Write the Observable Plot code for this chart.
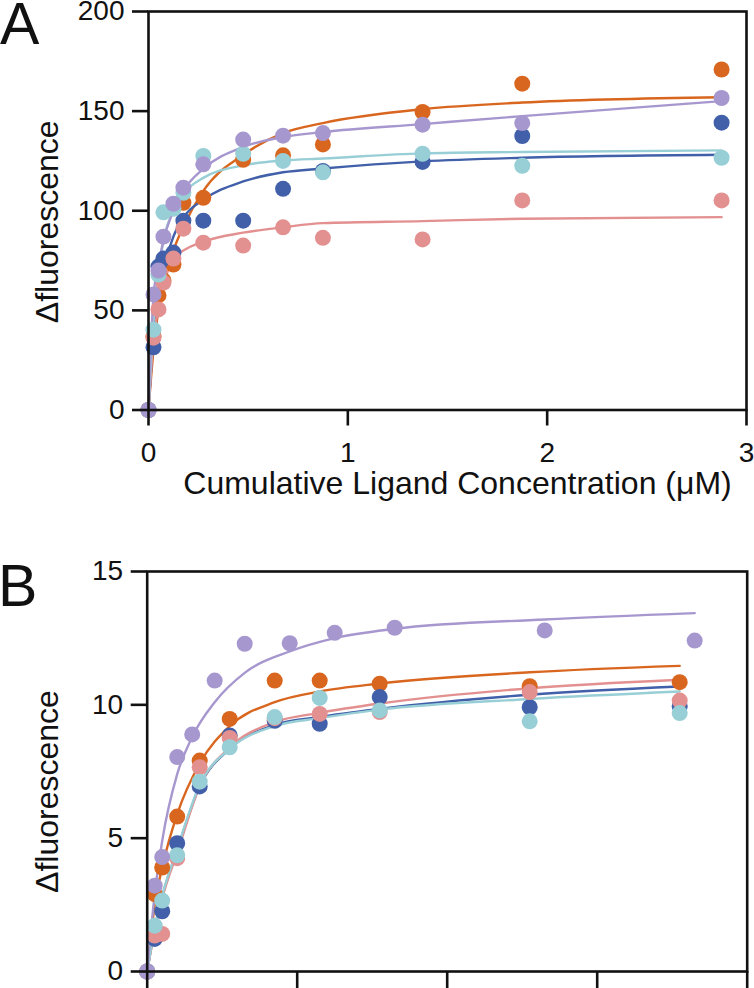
<!DOCTYPE html>
<html><head><meta charset="utf-8">
<script src="https://cdn.jsdelivr.net/npm/d3@7"></script>
<script src="https://cdn.jsdelivr.net/npm/@observablehq/plot@0.6"></script>
<style>
body{margin:0;background:#fff;}
#wrap{position:relative;width:754px;height:988px;overflow:hidden;font-family:"Liberation Sans",Arial,sans-serif;color:#111;}
.panel{position:absolute;font-size:59px;line-height:0.84;color:#111;}
svg{display:block;}
</style></head><body>
<div id="wrap">
<div id="chartA"></div><div id="chartB"></div>
<div class="panel" style="left:0px;top:0px">A</div>
<div class="panel" style="left:-2px;top:562px">B</div>
</div>
<script>
// ---------- shared ----------
const seriesNames = ["Series 1", "Series 2", "Series 3", "Series 4", "Series 5"];
const seriesColors = ["#d9661f", "#4160a9", "#e39090", "#98cfd6", "#a797cf"];
const yTitle = "Δfluorescence";
const xTitleA = "Cumulative Ligand Concentration (μM)";

// ---------- panel A ----------
const xTicksA = [0, 1, 2, 3];
const yTicksA = [0, 50, 100, 150, 200];
const xA = [0, 0.025, 0.05, 0.075, 0.125, 0.175, 0.275, 0.475, 0.675, 0.875, 1.375, 1.875, 2.875];
const s1A = [0, 37, 57.5, 65, 73, 104, 106.5, 125.6, 127.8, 133.3, 149.6, 163.8, 170.9];
const s2A = [0, 31.5, 72, 76, 79, 95, 95, 95, 111, 120, 124.5, 137.5, 144.2];
const s3A = [0, 36.3, 50.5, 64, 76, 91, 84, 82.5, 91.7, 86.4, 85.6, 105.2, 105.2];
const s4A = [0, 40.3, 68, 99.2, 101, 109, 127.5, 128.6, 125, 119.3, 128.6, 122.6, 126.6];
const s5A = [0, 58, 70, 87, 103.5, 111.6, 123.3, 135.7, 137.7, 139, 143.2, 144, 156.6];

const fitXA = [0, 0.025, 0.05, 0.075, 0.125, 0.175, 0.275, 0.475, 0.675, 0.875, 1.375, 1.875, 2.875];
const s1FitA = [0, 30, 50, 62, 80, 92, 110, 128, 139, 144, 151, 154.3, 157];
const s2FitA = [0, 36, 56, 70, 87, 96.5, 105.5, 114.7, 119.3, 121.2, 124.8, 126.6, 128.1];
const s3FitA = [0, 35, 52, 63, 76, 80, 84.5, 89, 91.7, 93.8, 94.8, 96, 96.8];
const s4FitA = [0, 45, 68, 85, 100, 108.5, 116.5, 122.8, 125.2, 126.2, 128.8, 129.5, 130.3];
const s5FitA = [0, 57, 73, 85, 100, 110, 121, 132, 137, 139.5, 143.5, 147.5, 155];

// ---------- panel B ----------
const xTicksB = [0, 1, 2, 3, 4];
const yTicksB = [0, 5, 10, 15];
const xB = [0, 0.05, 0.1, 0.2, 0.35, 0.55, 0.85, 1.15, 1.55, 2.55, 3.55];
const xB5 = [0, 0.05, 0.1, 0.2, 0.3, 0.45, 0.65, 0.95, 1.25, 1.65, 2.65, 3.65];
const s1B = [0, 2.9, 3.9, 5.81, 7.91, 9.47, 10.91, 10.91, 10.79, 10.7, 10.85];
const s2B = [0, 1.22, 2.26, 4.81, 6.94, 8.85, 9.4, 9.29, 10.29, 9.91, 9.95];
const s3B = [0, 1.35, 1.41, 4.25, 7.66, 8.76, 9.5, 9.66, 9.73, 10.48, 10.16];
const s4B = [0, 1.72, 2.66, 4.36, 7.12, 8.41, 9.54, 10.26, 9.79, 9.38, 9.69];
const s5B = [0, 3.22, 4.29, 8.04, 8.89, 10.91, 12.29, 12.31, 12.7, 12.89, 12.79, 12.41];

const fitXB = [0, 0.05, 0.1, 0.2, 0.35, 0.55, 0.85, 1.15, 1.55, 2.55, 3.55];
const s1FitB = [0, 2.5, 3.9, 5.9, 7.8, 9.2, 10.1, 10.5, 10.8, 11.22, 11.46];
const s2FitB = [0, 1.6, 2.8, 4.55, 6.95, 8.35, 9.25, 9.55, 9.85, 10.38, 10.69];
const s3FitB = [0, 1.55, 2.75, 4.45, 6.95, 8.4, 9.35, 9.7, 10.05, 10.62, 10.94];
const s4FitB = [0, 1.65, 2.85, 4.6, 7.0, 8.35, 9.2, 9.5, 9.82, 10.22, 10.5];
const fitXB5 = [0, 0.05, 0.1, 0.2, 0.3, 0.45, 0.65, 0.95, 1.25, 1.65, 2.65, 3.65];
const s5FitB = [0, 2.9, 4.9, 7.4, 8.8, 10.1, 11.2, 12.0, 12.5, 12.85, 13.2, 13.44];

// ---------- build tables ----------
function rows(xs, ys, series) { return xs.map((x, i) => ({x, y: ys[i], series})); }
const [n1, n2, n3, n4, n5] = seriesNames;

const ptsA = [].concat(rows(xA, s1A, n1), rows(xA, s2A, n2), rows(xA, s3A, n3), rows(xA, s4A, n4), rows(xA, s5A, n5));
const fitA = [].concat(rows(fitXA, s1FitA, n1), rows(fitXA, s2FitA, n2), rows(fitXA, s3FitA, n3), rows(fitXA, s4FitA, n4), rows(fitXA, s5FitA, n5));
const ptsB = [].concat(rows(xB, s1B, n1), rows(xB, s2B, n2), rows(xB, s3B, n3), rows(xB, s4B, n4), rows(xB5, s5B, n5));
const fitB = [].concat(rows(fitXB, s1FitB, n1), rows(fitXB, s2FitB, n2), rows(fitXB, s3FitB, n3), rows(fitXB, s4FitB, n4), rows(fitXB5, s5FitB, n5));

const fontFamily = '"Liberation Sans", Arial, sans-serif';
const axisStroke = 2.6;
const colorScale = {type: "ordinal", domain: seriesNames, range: seriesColors};

const chartA = Plot.plot({
  width: 754, height: 540,
  marginLeft: 148, marginRight: 8, marginTop: 11, marginBottom: 130.5,
  style: {fontFamily, background: "white", color: "#111", overflow: "visible"},
  x: {domain: [0, 3], axis: null},
  y: {domain: [0, 200], axis: null},
  color: colorScale,
  marks: [
    Plot.line(fitA, {x: "x", y: "y", stroke: "series", curve: "monotone-x", strokeWidth: 2.4}),
    Plot.dot(ptsA, {x: "x", y: "y", fill: "series", r: 8}),
    Plot.frame({stroke: "#111", strokeWidth: axisStroke}),
    Plot.axisX({ticks: xTicksA, tickSize: 16, tickPadding: 16, strokeWidth: axisStroke, fontSize: 28, label: null, tickFormat: d => String(d)}),
    Plot.axisY({ticks: yTicksA, tickSize: 16, tickPadding: 8, strokeWidth: axisStroke, fontSize: 28, label: null, tickFormat: d => String(d)}),
    Plot.text([xTitleA], {text: d => d, frameAnchor: "bottom", dx: 10, dy: 84, fontSize: 32}),
    Plot.text([yTitle], {text: d => d, frameAnchor: "left", textAnchor: "middle", lineAnchor: "middle", rotate: -90, dx: -101, dy: 11, fontSize: 32})
  ]
});
document.getElementById("chartA").append(chartA);

const chartB = Plot.plot({
  width: 754, height: 448,
  marginLeft: 146.7, marginRight: 7.3, marginTop: 31, marginBottom: 17,
  style: {fontFamily, background: "white", color: "#111", overflow: "visible"},
  x: {domain: [0, 4], axis: null},
  y: {domain: [0, 15], axis: null},
  color: colorScale,
  marks: [
    Plot.line(fitB, {x: "x", y: "y", stroke: "series", curve: "monotone-x", strokeWidth: 2.4}),
    Plot.dot(ptsB, {x: "x", y: "y", fill: "series", r: 8}),
    Plot.frame({stroke: "#111", strokeWidth: axisStroke}),
    Plot.axisX({ticks: xTicksB, tickSize: 17, strokeWidth: axisStroke, label: null, fill: "none", tickFormat: () => ""}),
    Plot.axisY({ticks: yTicksB, tickSize: 16, tickPadding: 8, strokeWidth: axisStroke, fontSize: 28, label: null, tickFormat: d => String(d)}),
    Plot.text([yTitle], {text: d => d, frameAnchor: "left", textAnchor: "middle", lineAnchor: "middle", rotate: -90, dx: -99, dy: 20, fontSize: 32})
  ]
});
document.getElementById("chartB").append(chartB);
</script>
</body></html>
